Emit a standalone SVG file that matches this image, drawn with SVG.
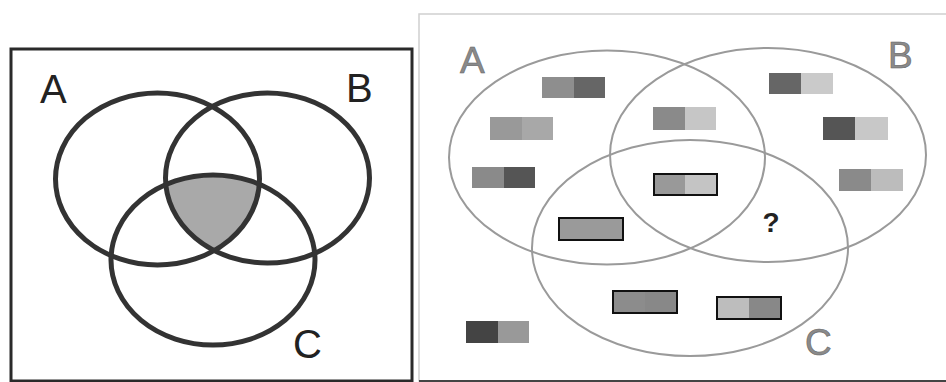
<svg xmlns="http://www.w3.org/2000/svg" width="946" height="382" viewBox="0 0 946 382">
<style>
.lc{fill:none;stroke:#333;stroke-width:5}
.rc{fill:none;stroke:#9a9a9a;stroke-width:2}
.ll{font-family:"Liberation Sans",Arial,sans-serif;font-size:40px;fill:#222}
.rl{font-family:"Liberation Sans",Arial,sans-serif;font-size:37px;fill:#8a8a8a;stroke:#666;stroke-width:0.6}
.bx{stroke:#111;stroke-width:2}
</style>
<defs>
<clipPath id="clipB"><ellipse cx="267.5" cy="178" rx="102" ry="85"/></clipPath>
<clipPath id="clipC"><ellipse cx="213" cy="260" rx="102" ry="85"/></clipPath>
</defs>
<rect x="0" y="0" width="946" height="382" fill="#ffffff"/>
<g id="left-panel">
<rect x="11" y="49" width="401" height="332" fill="none" stroke="#2a2a2a" stroke-width="3"/>
<g clip-path="url(#clipB)"><g clip-path="url(#clipC)"><ellipse id="abc-shade" cx="157.5" cy="179" rx="102" ry="86" fill="#a9a9a9"/></g></g>
<g id="left-A"><ellipse class="lc" cx="157.5" cy="179" rx="102" ry="86"/><text class="ll" x="40" y="103">A</text></g>
<g id="left-B"><ellipse class="lc" cx="267.5" cy="178" rx="102" ry="85"/><text class="ll" x="346" y="102">B</text></g>
<g id="left-C"><ellipse class="lc" cx="213" cy="260" rx="102" ry="85"/><text class="ll" x="293" y="358">C</text></g>
</g>
<g id="right-panel">
<rect x="419" y="14" width="540" height="367" fill="none" stroke="#d0d0d0" stroke-width="1.5"/>
<line x1="419" y1="381" x2="946" y2="381" stroke="#444" stroke-width="2"/>
<g id="right-A"><ellipse class="rc" cx="607" cy="157.5" rx="158" ry="107"/><text class="rl" x="460" y="73">A</text></g>
<g id="right-B"><ellipse class="rc" cx="768" cy="155" rx="158" ry="107"/><text class="rl" x="888" y="68">B</text></g>
<g id="right-C"><ellipse class="rc" cx="690" cy="248" rx="158" ry="108"/><text class="rl" x="805" y="355">C</text></g>
<g id="items">
<g><rect x="542" y="77" width="32" height="21" fill="#8e8e8e"/><rect x="574" y="77" width="31" height="21" fill="#666"/></g>
<g><rect x="490" y="117" width="32" height="23" fill="#999"/><rect x="522" y="117" width="31" height="23" fill="#a8a8a8"/></g>
<g><rect x="472" y="167" width="32" height="21" fill="#8a8a8a"/><rect x="504" y="167" width="31" height="21" fill="#555"/></g>
<g><rect x="653" y="107" width="32" height="23" fill="#8a8a8a"/><rect x="685" y="107" width="31" height="23" fill="#c6c6c6"/></g>
<g><rect x="654" y="174" width="31" height="21" fill="#999"/><rect x="685" y="174" width="32" height="21" fill="#c4c4c4"/><rect class="bx" x="654" y="174" width="63" height="21" fill="none"/></g>
<g><rect x="769" y="73" width="32" height="21" fill="#666"/><rect x="801" y="73" width="32" height="21" fill="#cacaca"/></g>
<g><rect x="823" y="117" width="32" height="23" fill="#555"/><rect x="855" y="117" width="33" height="23" fill="#c8c8c8"/></g>
<g><rect x="839" y="169" width="32" height="22" fill="#8a8a8a"/><rect x="871" y="169" width="32" height="22" fill="#bcbcbc"/></g>
<g><rect class="bx" x="559" y="218" width="64" height="22" fill="#9a9a9a"/></g>
<g><rect x="613" y="291" width="32" height="22" fill="#8c8c8c"/><rect x="645" y="291" width="32" height="22" fill="#888"/><rect class="bx" x="613" y="291" width="64" height="22" fill="none"/></g>
<g><rect x="717" y="297" width="32" height="22" fill="#bdbdbd"/><rect x="749" y="297" width="32" height="22" fill="#888"/><rect class="bx" x="717" y="297" width="64" height="22" fill="none"/></g>
<g><rect x="466" y="321" width="32" height="22" fill="#444"/><rect x="498" y="321" width="31" height="22" fill="#999"/></g>
</g>
<text x="771" y="232" font-family="'Liberation Sans',Arial,sans-serif" font-size="28" font-weight="bold" fill="#222" text-anchor="middle">?</text>
</g>
</svg>
